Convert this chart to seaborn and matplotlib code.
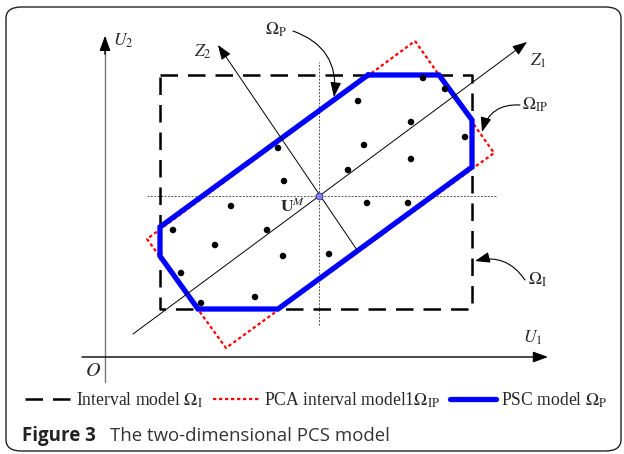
import matplotlib
matplotlib.use("Agg")
import matplotlib.pyplot as plt
from matplotlib.patches import FancyBboxPatch
import seaborn as sns
import pandas as pd

# diagram coordinates: origin at O, U1 to the right, U2 upwards
box_u1 = [55, 367]
box_u2 = [48, 282]

# PSC model polygon
psc_u1 = [263, 334, 367, 367, 173, 93, 55, 55]
psc_u2 = [282, 282, 237, 190, 48, 48, 101, 130]

# PCA interval model (rotated rectangle)
pca_u1 = [310, 389, 121, 42]
pca_u2 = [316, 204, 9, 118]

# samples
pts_u1 = [173, 179, 126, 318, 340, 253, 306, 259, 306, 360, 243,
          262, 303, 224, 68, 162, 110, 178, 76, 150, 96]
pts_u2 = [209, 176, 151, 279, 268, 256, 235, 212, 198, 220, 187,
          154, 154, 103, 127, 127, 112, 101, 84, 60, 54]

center = (214, 161)
z1_tail, z1_tip = (28, 23), (422, 315)
z2_tail, z2_tip = (252, 107), (113, 312)

sns.set_style("white")
plt.rcParams["font.family"] = ["Liberation Serif", "DejaVu Serif"]
plt.rcParams["mathtext.fontset"] = "stix"

fig = plt.figure(figsize=(6.24, 4.54), dpi=100)
ax = fig.add_axes([0, 0, 1, 1])
ax.set_xlim(-105, 519)
ax.set_ylim(-97, 357)
ax.axis("off")

head = "-|>,head_length=0.6,head_width=0.22"

# U axes
ax.plot([0, 0], [-25, 320], color="#777777", lw=1.0)
ax.annotate("", xy=(0, 324), xytext=(0, 300),
            arrowprops=dict(arrowstyle=head, color="black", lw=1.0, mutation_scale=15))
ax.annotate("", xy=(443, 0), xytext=(-23, 0),
            arrowprops=dict(arrowstyle=head, color="black", lw=1.0, mutation_scale=15,
                            shrinkA=0, shrinkB=0))

# crosshair through U^M
ax.plot([42, 391], [center[1], center[1]], color="#555555", lw=0.7, ls=(0, (2, 1.5)))
ax.plot([center[0], center[0]], [32, 295], color="#555555", lw=0.7, ls=(0, (2, 1.5)))

# principal axes
for tail, tip in [(z1_tail, z1_tip), (z2_tail, z2_tip)]:
    ax.annotate("", xy=tip, xytext=tail,
                arrowprops=dict(arrowstyle=head, color="black", lw=0.7, mutation_scale=15,
                                shrinkA=0, shrinkB=0))

# interval box
bx = [box_u1[0], box_u1[1], box_u1[1], box_u1[0], box_u1[0]]
by = [box_u2[1], box_u2[1], box_u2[0], box_u2[0], box_u2[1]]
ax.plot(bx, by, color="black", lw=1.8, ls=(0, (7, 4)), label=r"Interval model $\Omega_{\mathrm{I}}$")

# PCA interval model
ax.plot(pca_u1 + pca_u1[:1], pca_u2 + pca_u2[:1], color="red", lw=1.6, ls=(0, (1.5, 1.2)),
        label=r"PCA interval model1$\Omega_{\mathrm{IP}}$")

# PSC model
ax.plot(psc_u1 + psc_u1[:1], psc_u2 + psc_u2[:1], color="#0000ff", lw=3.8,
        solid_joinstyle="miter", label=r"PSC model $\Omega_{\mathrm{P}}$")

df = pd.DataFrame({"u1": pts_u1, "u2": pts_u2})
sns.scatterplot(data=df, x="u1", y="u2", color="black", s=22, edgecolor="none", ax=ax,
                legend=False, zorder=5)

ax.plot(*center, marker="o", ms=5, mfc="#7f7fff", mec="#333366", mew=0.6, zorder=6)

# labels
fs = 12.5
ax.text(8, 316, r"$U_2$", fontsize=fs, va="center")
ax.text(89, 305, r"$Z_2$", fontsize=fs, va="center")
ax.text(425, 296, r"$Z_1$", fontsize=fs, va="center")
ax.text(418, 19, r"$U_1$", fontsize=fs, va="center")
ax.text(-12, -14, r"$O$", fontsize=14.5, va="center", ha="center")
ax.text(175, 150, r"$\mathbf{U}^{M}$", fontsize=fs, va="center")
ax.text(160, 327, r"$\Omega_{\mathrm{P}}$", fontsize=fs, va="center")
ax.text(417, 252, r"$\Omega_{\mathrm{IP}}$", fontsize=fs, va="center")
ax.text(423, 77, r"$\Omega_{\mathrm{I}}$", fontsize=fs, va="center")

arrow = dict(arrowstyle=head, color="black", lw=0.8, mutation_scale=15, shrinkA=0, shrinkB=0)
ax.annotate("", xy=(229, 260), xytext=(188, 326),
            arrowprops=dict(arrow, connectionstyle="arc3,rad=-0.4"))
ax.annotate("", xy=(377, 225), xytext=(415, 252),
            arrowprops=dict(arrow, connectionstyle="arc3,rad=0.4"))
ax.annotate("", xy=(370, 96), xytext=(420, 77),
            arrowprops=dict(arrow, connectionstyle="arc3,rad=0.35"))

ax.legend(loc="center", bbox_to_anchor=(0.507, 0.119), ncol=3, frameon=False, fontsize=12.7,
          handlelength=2.6, handletextpad=0.3, columnspacing=0.55, borderaxespad=0)

# caption and frame
fig.text(22 / 624, 1 - 436 / 454, "Figure 3", family="Open Sans", fontweight="bold",
         fontsize=13.5, color="#222222", va="center")
fig.text(110 / 624, 1 - 436 / 454, "The two-dimensional PCS model", family="Open Sans",
         fontsize=13.4, color="#333333", va="center")
fig.patches.append(FancyBboxPatch((6 / 624, 3 / 454), 615 / 624, 444 / 454,
                                  boxstyle="round,pad=0,rounding_size=0.025",
                                  transform=fig.transFigure, fill=False, lw=1.0,
                                  edgecolor="#222222"))

fig.savefig("out.png", dpi=100)
